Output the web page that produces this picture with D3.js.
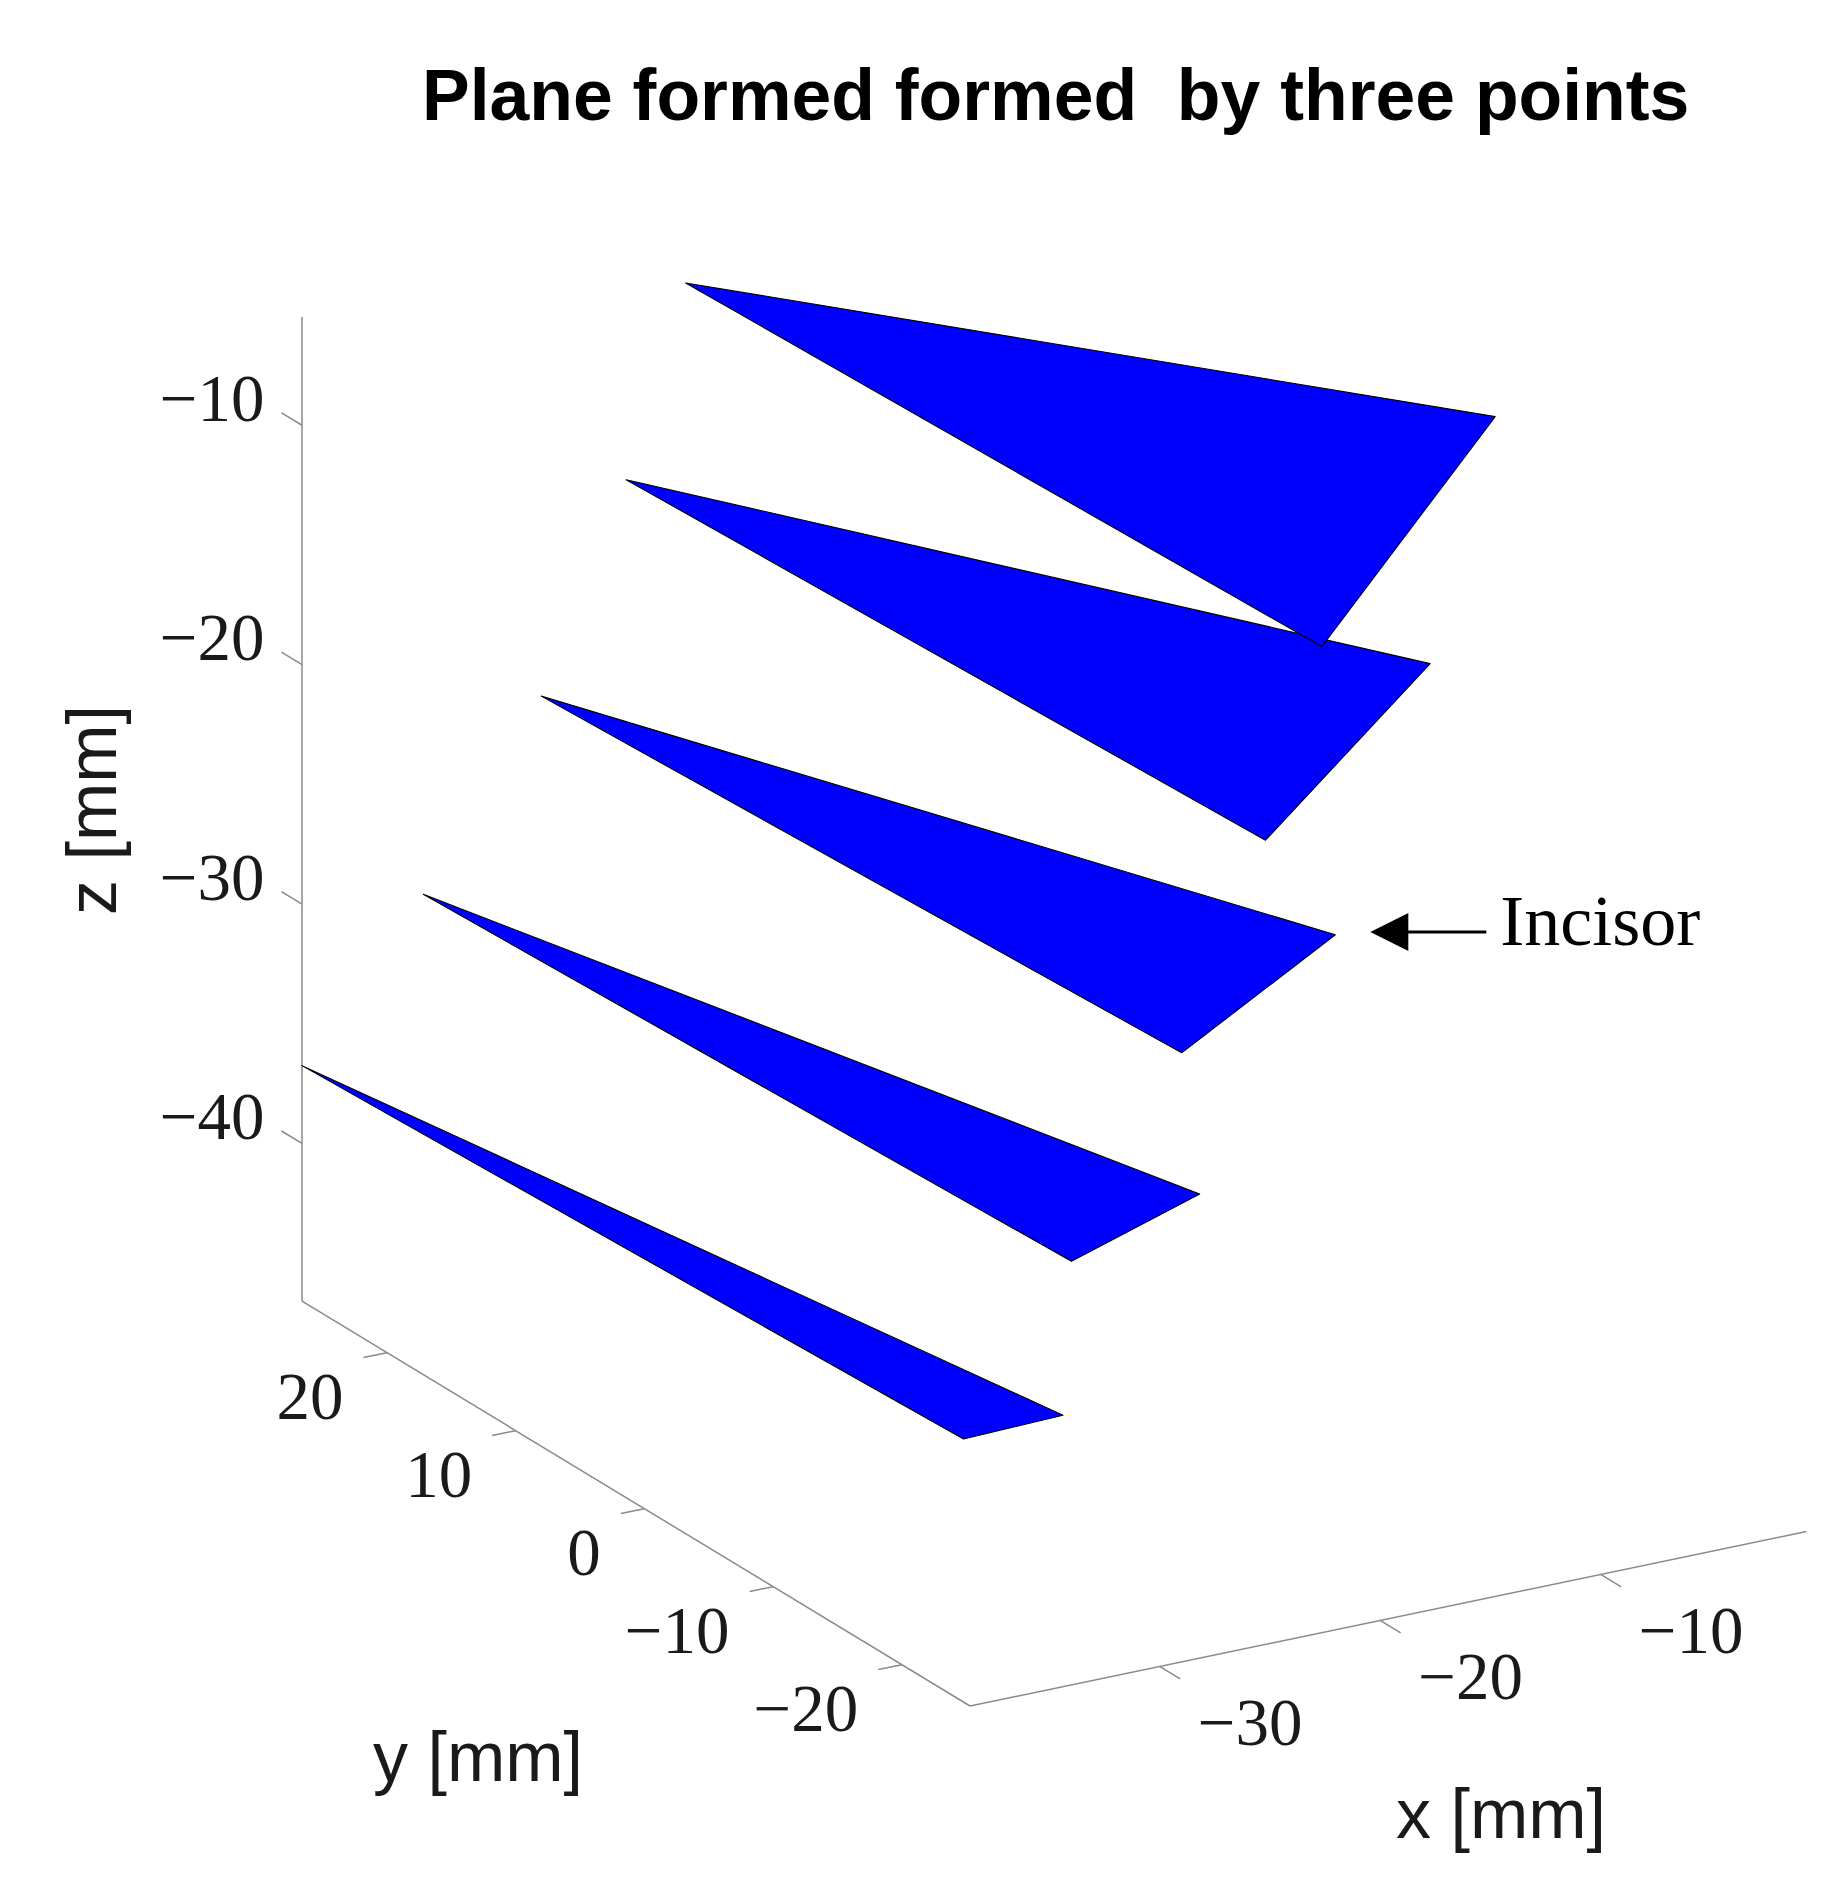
<!DOCTYPE html>
<html>
<head>
<meta charset="utf-8">
<script src="https://cdn.jsdelivr.net/npm/d3@7"></script>
<style>
  html, body { margin: 0; padding: 0; background: #ffffff; }
  svg { display: block; }
  text { white-space: pre; }
</style>
</head>
<body>
<svg id="chart" width="1843" height="1902"></svg>
<script>
// ---------------- data ----------------
const titleText = "Plane formed formed  by three points";
const xLabel = "x [mm]", yLabel = "y [mm]", zLabel = "z [mm]";
const annotationText = "Incisor";

// axis limits (data units, mm)
const xDomain = [-38.6, -0.67];
const yDomain = [-25.3, 26.6];
const zDomain = [-46.59, -5.47];

// tick values
const xTicks = [-30, -20, -10];
const yTicks = [-20, -10, 0, 10, 20];
const zTicks = [-40, -30, -20, -10];

// three points per plane (x, y, z), planes 1..5 from top to bottom
const leftPoints = [
  [-21.2, 26.6, -7.4],
  [-23.9, 26.6, -15.1],
  [-27.75, 26.6, -23.4],
  [-33.1, 26.6, -30.65],
  [-38.6, 26.6, -36.75]
];
const incisorPoints = [
  [-0.6, -1.0, -7.95],
  [-3.55, -1.0, -17.7],
  [-7.85, -1.0, -28.2],
  [-14.0, -1.0, -37.85],
  [-20.2, -1.0, -45.9]
];
const rightPoints = [
  [-22.65, -25.3, -5.4],
  [-25.2, -25.3, -13.0],
  [-29.0, -25.3, -21.15],
  [-34.0, -25.3, -28.9],
  [-38.6, -24.8, -35.6]
];
const annotatedPlane = 2; // index of the plane whose incisor is labelled

// ---------------- projection ----------------
const svg = d3.select("#chart");
svg.append("rect").attr("width", 1843).attr("height", 1902).attr("fill", "#ffffff");

// data -> normalized box coordinates
const sx = d3.scaleLinear().domain(xDomain).range([0, 1]);
const sy = d3.scaleLinear().domain(yDomain).range([0, 1]);
const sz = d3.scaleLinear().domain(zDomain).range([0, 1]);

// projected box: corner (xmin,ymin,zmin) and the screen edges of the box
const boxOrigin = [970, 1706];
const edgeX = [836.4, -174.5];
const edgeY = [-668, -404.8];
const edgeZ = [0, -984.4];

function project(p) {
  const a = sx(p[0]), b = sy(p[1]), c = sz(p[2]);
  return [
    boxOrigin[0] + a * edgeX[0] + b * edgeY[0] + c * edgeZ[0],
    boxOrigin[1] + a * edgeX[1] + b * edgeY[1] + c * edgeZ[1]
  ];
}

const [xmin, xmax] = xDomain, [ymin, ymax] = yDomain, [zmin, zmax] = zDomain;
const line = d3.line();

// ---------------- axes ----------------
const axisColor = "#8a8a8a";
const axisG = svg.append("g").attr("fill", "none").attr("stroke", axisColor).attr("stroke-width", 1.5);

axisG.append("path").attr("d", line([project([xmin, ymax, zmin]), project([xmin, ymax, zmax])]));
axisG.append("path").attr("d", line([project([xmin, ymin, zmin]), project([xmin, ymax, zmin])]));
axisG.append("path").attr("d", line([project([xmin, ymin, zmin]), project([xmax, ymin, zmin])]));

// tick length: 24 px expressed in data units of the tick direction
const pxPerX = Math.hypot(edgeX[0], edgeX[1]) / (xmax - xmin);
const pxPerY = Math.hypot(edgeY[0], edgeY[1]) / (ymax - ymin);
const tickPx = 24;
const tY = tickPx / pxPerY, tX = tickPx / pxPerX;

const tickFont = "'Liberation Serif', 'Times New Roman', serif";
const tickSize = 67;
const labelColor = "#1a1a1a";
const fmt = v => (v < 0 ? "\u2212" + Math.abs(v) : String(v));
const midShift = 0.338 * tickSize; // baseline below visual centre of digits

// z ticks
zTicks.forEach(v => {
  const p0 = project([xmin, ymax, v]), p1 = project([xmin, ymax + tY, v]);
  axisG.append("path").attr("d", line([p0, p1]));
  svg.append("text").attr("x", p0[0] - 37.5).attr("y", p0[1] - 27 + midShift)
    .attr("text-anchor", "end").attr("font-family", tickFont).attr("font-size", tickSize)
    .attr("fill", labelColor).text(fmt(v));
});
// y ticks
yTicks.forEach(v => {
  const p0 = project([xmin, v, zmin]), p1 = project([xmin - tX, v, zmin]);
  axisG.append("path").attr("d", line([p0, p1]));
  svg.append("text").attr("x", p0[0] - 43.5).attr("y", p0[1] + 44 + midShift)
    .attr("text-anchor", "end").attr("font-family", tickFont).attr("font-size", tickSize)
    .attr("fill", labelColor).text(fmt(v));
});
// x ticks
xTicks.forEach(v => {
  const p0 = project([v, ymin, zmin]), p1 = project([v, ymin - tY, zmin]);
  axisG.append("path").attr("d", line([p0, p1]));
  svg.append("text").attr("x", p0[0] + 38).attr("y", p0[1] + 56 + midShift)
    .attr("text-anchor", "start").attr("font-family", tickFont).attr("font-size", tickSize)
    .attr("fill", labelColor).text(fmt(v));
});

// ---------------- planes ----------------
const planes = leftPoints.map((l, i) => [l, incisorPoints[i], rightPoints[i]]);
svg.append("g").selectAll("path")
  .data(planes.map((p, i) => ({ p, i })).reverse())
  .join("path")
  .attr("d", d => line(d.p.map(project)) + "Z")
  .attr("fill", "#0000ff")
  .attr("stroke", "#000000")
  .attr("stroke-width", 1.1)
  .attr("stroke-linejoin", "round");

// ---------------- axis titles ----------------
const sansFont = "'Liberation Sans', Arial, Helvetica, sans-serif";
svg.append("text").attr("x", 1396).attr("y", 1838).attr("font-family", sansFont)
  .attr("font-size", 70).attr("fill", labelColor).text(xLabel);
svg.append("text").attr("x", 373).attr("y", 1781).attr("font-family", sansFont)
  .attr("font-size", 70).attr("fill", labelColor).text(yLabel);
svg.append("text").attr("transform", "translate(115.7,810) rotate(-90)")
  .attr("text-anchor", "middle").attr("font-family", sansFont)
  .attr("font-size", 70).attr("fill", labelColor).text(zLabel);

// ---------------- title ----------------
svg.append("text").attr("x", 422).attr("y", 120)
  .attr("font-family", sansFont).attr("font-weight", "bold").attr("font-size", 71.5)
  .attr("fill", "#000000").text(titleText);

// ---------------- annotation ----------------
const target = project(incisorPoints[annotatedPlane]);
const tip = [target[0] + 35, target[1] - 2.7];
const headLen = 38, headHalf = 19, shaft = 116;
svg.append("path")
  .attr("d", line([[tip[0] + headLen - 2, tip[1]], [tip[0] + shaft, tip[1]]]))
  .attr("stroke", "#000").attr("stroke-width", 3).attr("fill", "none");
svg.append("path")
  .attr("d", line([tip, [tip[0] + headLen, tip[1] - headHalf], [tip[0] + headLen, tip[1] + headHalf]]) + "Z")
  .attr("fill", "#000");
svg.append("text").attr("x", tip[0] + 130).attr("y", tip[1] + 13)
  .attr("font-family", tickFont).attr("font-size", 72).attr("fill", "#000").text(annotationText);
</script>
</body>
</html>
